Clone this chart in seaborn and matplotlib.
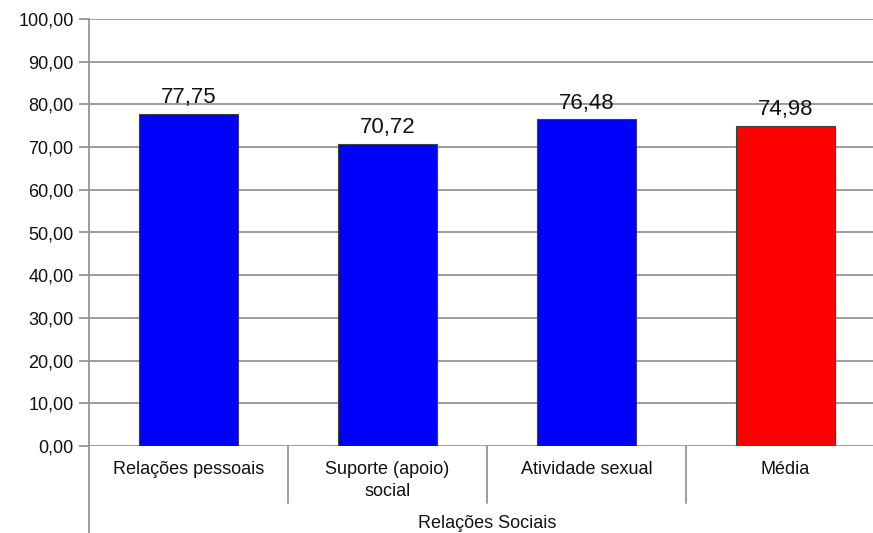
import matplotlib
matplotlib.use("Agg")
import matplotlib.pyplot as plt
import seaborn as sns
import pandas as pd
from matplotlib.ticker import FuncFormatter, MultipleLocator

categories = ["Relações pessoais", "Suporte (apoio)\nsocial", "Atividade sexual", "Média"]
values = [77.75, 70.72, 76.48, 74.98]
colors = ["#0000FF", "#0000FF", "#0000FF", "#FF0000"]
group_label = "Relações Sociais"

sns.set_style("white")
plt.rcParams["font.family"] = ["Liberation Sans", "DejaVu Sans"]

fig = plt.figure(figsize=(8.73, 5.33), dpi=100)
ax = fig.add_axes([89/873, 87/533, 796/873, 427/533])

df = pd.DataFrame({"cat": categories, "val": values})
sns.barplot(data=df, x="cat", y="val", hue="cat", palette=colors, width=0.5, saturation=1,
            edgecolor="#404040", linewidth=0.8, legend=False, ax=ax, zorder=3)

ax.set_xlim(-0.5, 3.5)
ax.set_ylim(0, 100)
ax.yaxis.set_major_locator(MultipleLocator(10))
ax.yaxis.set_major_formatter(FuncFormatter(lambda v, p: f"{v:.2f}".replace(".", ",")))
ax.grid(axis="y", color="#959595", linewidth=1.3, zorder=0)
ax.set_axisbelow(True)
for s in ["top", "right", "bottom"]:
    ax.spines[s].set_visible(False)
ax.spines["left"].set_color("#959595")
ax.spines["left"].set_linewidth(1.3)
ax.tick_params(axis="y", which="major", left=True, length=7, width=1.3, color="#959595",
               labelsize=13, labelcolor="#111111", pad=4)
ax.set_xticks([])
ax.set_xlabel("")
ax.set_ylabel("")

for i, v in enumerate(values):
    ax.annotate(f"{v:.2f}".replace(".", ","), (i, v), xytext=(0, 4), textcoords="offset points",
                ha="center", va="bottom", fontsize=16, color="#111111")

trans = ax.get_xaxis_transform()
for xs in [0.5, 1.5, 2.5]:
    ax.plot([xs, xs], [0, -57/427], transform=trans, color="#959595", linewidth=1.3, clip_on=False)
ax.plot([-0.5, -0.5], [0, -90/427], transform=trans, color="#959595", linewidth=1.3, clip_on=False)

for i, c in enumerate(categories):
    ax.text(i, -15/427, c, transform=trans, ha="center", va="top", fontsize=13,
            color="#111111", linespacing=1.35)

ax.text(1.5, -78/427, group_label, transform=trans, ha="center", va="center", fontsize=13,
        color="#111111")

fig.savefig("out.png", dpi=100)
